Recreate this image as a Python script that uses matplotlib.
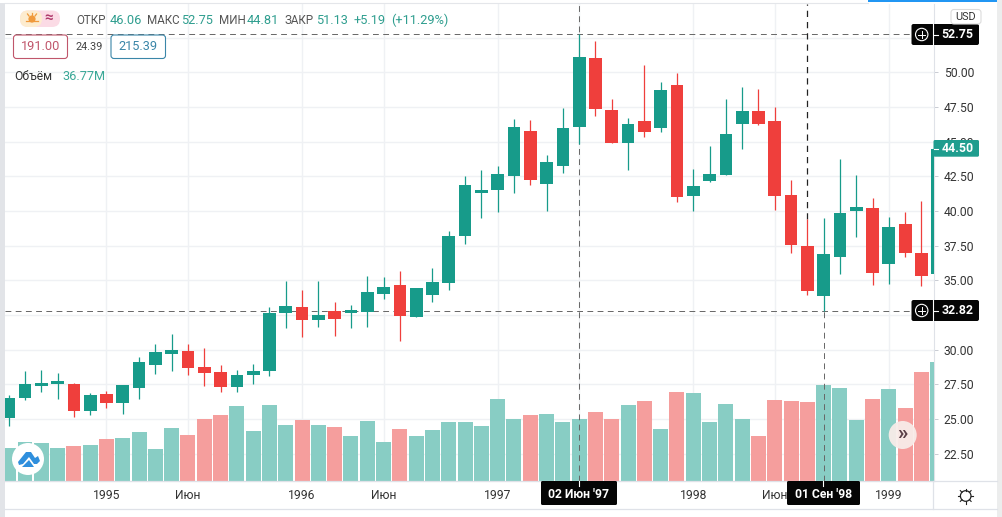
import matplotlib
matplotlib.use('Agg')
import matplotlib.pyplot as plt
from matplotlib.lines import Line2D
from matplotlib.patches import Circle, FancyBboxPatch, Polygon, Rectangle
from matplotlib.transforms import Affine2D

plt.rcParams['font.family'] = ['Roboto', 'DejaVu Sans']

# Monthly candles, Jul 1994 .. Apr 1999
opens = [25.06, 26.50, 27.37, 27.49, 27.49, 25.57,
         26.84, 26.14, 27.23, 28.88, 29.68, 29.87, 28.72, 28.36, 27.30, 28.21, 28.45, 32.64,
         33.05, 32.13, 32.76, 32.64, 32.73, 34.01, 34.70, 32.35, 33.93, 34.80, 38.19, 41.29,
         41.51, 42.52, 45.74, 41.94, 43.24, 46.06, 51.01, 47.26, 44.90, 46.47, 45.96, 49.06,
         41.08, 42.14, 42.59, 46.25, 47.19, 46.47, 41.13, 37.45, 33.86, 36.65, 39.97, 40.19,
         36.15, 39.03, 36.94, 35.43]
closes = [26.55, 27.56, 27.63, 27.71, 25.57, 26.70,
          26.14, 27.42, 29.08, 29.80, 30.01, 28.67, 28.30, 27.30, 28.21, 28.43, 32.61, 33.12,
          32.13, 32.47, 32.20, 32.83, 34.13, 34.49, 32.42, 34.42, 34.85, 38.17, 41.85, 41.49,
          42.64, 46.03, 42.23, 43.51, 45.96, 51.13, 47.36, 44.90, 46.25, 45.67, 48.70, 41.01,
          41.78, 42.64, 45.53, 47.19, 46.25, 41.05, 37.52, 34.20, 36.87, 39.83, 40.26, 35.50,
          38.82, 36.94, 35.28, 44.50]
highs = [26.70, 28.43, 28.57, 28.33, 27.59, 26.91,
         27.01, 27.42, 29.44, 30.38, 31.10, 30.38, 30.09, 28.86, 28.50, 29.00, 33.05, 34.92,
         34.34, 34.92, 33.41, 33.19, 35.35, 35.23, 35.71, 34.42, 35.86, 38.53, 42.50, 42.93,
         43.22, 46.61, 46.54, 44.01, 47.40, 52.75, 52.24, 48.10, 46.68, 50.50, 49.28, 49.95,
         43.00, 44.66, 48.05, 48.92, 48.77, 47.50, 42.21, 39.43, 39.47, 43.72, 42.57, 40.91,
         39.54, 39.90, 40.69, 44.50]
lows = [24.53, 26.38, 26.94, 26.43, 25.13, 25.27,
        25.78, 25.35, 26.43, 28.26, 28.43, 28.21, 27.35, 26.94, 26.94, 27.49, 28.07, 31.55,
        30.95, 31.63, 31.02, 31.60, 31.67, 33.62, 30.62, 32.35, 33.43, 34.30, 37.61, 39.49,
        39.90, 41.29, 41.87, 40.00, 42.71, 44.81, 46.85, 44.90, 42.93, 45.33, 45.67, 40.62,
        39.97, 42.06, 42.59, 44.45, 46.20, 40.09, 36.94, 33.94, 32.82, 35.43, 38.10, 34.63,
        34.71, 36.65, 34.56, 35.43]
volumes = [10.17, 12.00, 11.71, 10.17, 10.78, 11.09,
           12.94, 13.25, 15.10, 9.86, 16.33, 14.17, 19.10, 20.33, 23.11, 15.41, 23.42, 17.25,
           18.79, 17.25, 16.64, 13.86, 18.49, 12.02, 16.02, 13.86, 15.71, 18.18, 18.18, 16.95,
           25.26, 19.10, 20.33, 20.64, 18.18, 19.10, 21.26, 19.10, 23.42, 24.65, 16.02, 27.42,
           27.11, 18.18, 23.72, 19.10, 13.86, 24.96, 24.65, 24.34, 29.58, 28.65, 18.79, 25.26,
           28.35, 22.49, 33.58, 36.77]

# 32.50 and 52.50 keep their grid lines but sit behind the tags, so no text for them
price_ticks = [22.5, 25, 27.5, 30, 32.5, 35, 37.5, 40, 42.5, 45, 47.5, 50, 52.5]
price_labels = ['22.50', '25.00', '27.50', '30.00', '', '35.00', '37.50', '40.00', '42.50', '45.00', '47.50', '50.00', '']
month_ticks = [6, 11, 18, 23, 30, 35, 42, 47, 54]
month_labels = ['1995', 'Июн', '1996', 'Июн', '1997', '', '1998', 'Июн', '1999']

# Crosshairs: two price levels, and the months they were taken from
level_high = 52.75
level_low = 32.82
cross_mid = 35
cross_high = 49
cross_low = 50

TEAL = '#179b8a'
RED = '#ef3f3c'
VOL_TEAL = '#88cdc4'
VOL_RED = '#f59e9d'
GRID = '#eff1f4'
EDGE = '#dfe2e8'
DASH = '#666666'
TEXT = '#333333'
W, H = 1003, 517

fig = plt.figure(figsize=(W / 100, H / 100), dpi=100, facecolor='white')
rect = [5 / W, 1 - 481 / H, 929 / W, 477 / H]
xlim = (-0.227, 56.77)
ylim = (20.53, 54.93)

# three layers so the grid stays under the volume and the dashes stay over it
ax_grid = fig.add_axes(rect)
ax_vol = ax_grid.twinx()
ax = ax_grid.twinx()

ax_grid.set_xlim(xlim)
ax_grid.set_ylim(ylim)
ax.set_ylim(ylim)
ax_vol.set_ylim(0, 146.9)
ax.yaxis.set_visible(False)
ax_vol.yaxis.set_visible(False)
for a in (ax, ax_vol):
    for s in a.spines.values():
        s.set_visible(False)

ax_grid.yaxis.tick_right()
ax_grid.set_yticks(price_ticks)
ax_grid.set_yticklabels(price_labels)
ax_grid.set_xticks(month_ticks)
ax_grid.set_xticklabels(month_labels)
ax_grid.tick_params(axis='y', length=3, width=0.7, color='#c9ccd3', pad=4, labelsize=8.7, labelcolor=TEXT)
ax_grid.tick_params(axis='x', length=0, pad=6, labelsize=8.7, labelcolor=TEXT)
ax_grid.grid(True, color=GRID, linewidth=1)
ax_grid.set_axisbelow(True)
for name, s in ax_grid.spines.items():
    s.set_visible(name in ('right', 'bottom'))
    s.set_color(EDGE)
    s.set_linewidth(0.8)

x = list(range(len(opens)))
up = [c >= o for o, c in zip(opens, closes)]

ax_vol.bar(x, volumes, width=0.92, color=[VOL_TEAL if u else VOL_RED for u in up])

# Crosshairs under the candles
dash = dict(color=DASH, linewidth=0.7, linestyle=(0, (6, 4.5)), zorder=1)
ax.axhline(level_high, **dash)
ax.axhline(level_low, **dash)
ax.axvline(cross_mid, **dash)
ax.plot([cross_high, cross_high], [highs[cross_high], ylim[1]],
        color='#222222', linewidth=0.9, linestyle=(0, (5, 4)), zorder=1)
ax.plot([cross_low, cross_low], [ylim[0], lows[cross_low]], **dash)

# Candles
candle_colors = [TEAL if u else RED for u in up]
ax.vlines(x, lows, highs, colors=candle_colors, linewidth=0.9, zorder=2)
ax.bar(x, [abs(c - o) for o, c in zip(opens, closes)], bottom=[min(o, c) for o, c in zip(opens, closes)],
       width=0.78, color=candle_colors, zorder=3)

# Everything below sits on top of the chart, placed in screen pixels
tr = Affine2D().scale(1 / W, -1 / H).translate(0, 1) + fig.transFigure


def label(px, py, s, color=TEXT, size=8.7, ha='left', weight='normal'):
    fig.text(px, py, s, transform=tr, color=color, fontsize=size, ha=ha, va='center',
             fontweight=weight, zorder=20)


def line(xs, ys, color, lw=0.8, zorder=15):
    fig.add_artist(Line2D(xs, ys, transform=tr, color=color, linewidth=lw, zorder=zorder))


def box(x0, y0, x1, y1, face, edge='none', lw=0.8, rad=2, zorder=10):
    fig.add_artist(FancyBboxPatch((x0 + rad, y0 + rad), x1 - x0 - 2 * rad, y1 - y0 - 2 * rad,
                                  boxstyle='round,pad=%g,rounding_size=%g' % (rad, rad), transform=tr,
                                  facecolor=face, edgecolor=edge, linewidth=lw, zorder=zorder))


# Window frame
fig.add_artist(Rectangle((0, 3), 5, 514, transform=tr, facecolor='#e2e4e8', edgecolor='none', zorder=5))
fig.add_artist(Rectangle((997, 0), 6, 517, transform=tr, facecolor='#eceded', edgecolor='none', zorder=5))
fig.add_artist(Rectangle((868, 0), 129, 2, transform=tr, facecolor='#2196f3', edgecolor='none', zorder=5))
line([5, 868], [2.5, 2.5], '#e4e6ea', 0.8, 5)
line([5, 997], [509, 509], EDGE, 0.9, 5)
line([5, 997], [481, 481], EDGE, 0.9, 5)
line([933.5, 933.5], [481, 509], EDGE, 0.9, 5)

# Legend row
label(76, 20.5, 'ОТКР', '#555555', 8.4)
label(109.5, 20.5, '46.06', '#2f9e8f', 9.2)
label(147, 20.5, 'МАКС', '#555555', 8.4)
label(181, 20.5, '52.75', '#2f9e8f', 9.2)
label(219, 20.5, 'МИН', '#555555', 8.4)
label(247, 20.5, '44.81', '#2f9e8f', 9.2)
label(285, 20.5, 'ЗАКР', '#555555', 8.4)
label(316.5, 20.5, '51.13', '#2f9e8f', 9.2)
label(354, 20.5, '+5.19', '#2f9e8f', 9.2)
label(391, 20.5, '(+11.29%)', '#2f9e8f', 9.2)

box(13.5, 35, 67.5, 58.5, 'white', '#c0566b', 0.8, 3)
label(40.5, 47, '191.00', '#c0566b', 9.2, 'center')
label(89, 47, '24.39', '#444444', 7.8, 'center')
box(111, 35, 165.5, 58.5, 'white', '#3a86a8', 0.8, 3)
label(138, 47, '215.39', '#3a86a8', 9.2, 'center')
label(14, 76, 'Объём', '#333333', 8.7)
label(62, 76, '36.77M', '#3aa897', 9.2)

# Weather pill, top left
box(20, 10.5, 60, 27, '#fbdbe5', rad=8, zorder=8)
box(20, 10.5, 42, 27, '#fdeccf', rad=8, zorder=9)
fig.add_artist(Circle((32, 19), 3.6, transform=tr, facecolor='#f09a3c', edgecolor='none', zorder=11))
for xs, ys in [([26, 38], [21, 21]), ([32, 32], [12.5, 15]), ([27.5, 29], [14, 16]), ([36.5, 35], [14, 16])]:
    line(xs, ys, '#f09a3c', 0.9)
label(49, 18.5, '≈', '#b03a6c', 11, 'center', 'bold')

# Price tags
for py, txt in [(34.5, '52.75'), (310.5, '32.82')]:
    box(911.5, py - 10.5, 979, py + 10.5, '#050505', rad=2)
    fig.add_artist(Circle((921.7, py), 6.2, transform=tr, facecolor='none', edgecolor='white', linewidth=0.8, zorder=15))
    line([918.5, 925], [py, py], 'white', 0.7)
    line([921.7, 921.7], [py - 3.3, py + 3.3], 'white', 0.7)
    line([933.5, 933.5], [py - 10.5, py + 10.5], 'white', 0.8)
    line([934, 938], [py, py], 'white', 0.8)
    label(957.5, py, txt, 'white', 8.9, 'center', 'bold')

box(933.5, 140, 979, 156.7, '#1f9d8e', rad=1.5)
line([934, 938], [148.5, 148.5], 'white', 0.8)
label(957.5, 148.5, '44.50', 'white', 8.9, 'center', 'bold')

box(951, 9.5, 981, 24, 'white', '#dcdcdc', 0.8, 3, zorder=16)
label(966, 16.7, 'USD', '#333333', 7.8, 'center')

# Time tags
for cx, x0, x1, txt in [(579, 541, 617, "02 Июн '97"), (823.5, 787, 860, "01 Сен '98")]:
    box(x0, 481, x1, 505, '#050505', rad=1.5)
    line([cx, cx], [481, 486], 'white', 0.8)
    label(cx, 495, txt, 'white', 8.7, 'center', 'bold')

# Logo button, bottom left
fig.add_artist(Circle((28, 459), 16, transform=tr, facecolor='white', edgecolor='none', zorder=11))
fig.add_artist(Polygon([(18, 462), (26, 452), (31, 452), (35, 458), (38, 456), (40, 461), (37, 464), (34, 464),
                        (29, 457), (23, 464), (19, 465)], transform=tr, facecolor='#2f8fdd', edgecolor='none', zorder=12))
fig.add_artist(Polygon([(23, 466), (29, 460), (34, 467), (22, 467)], transform=tr,
                       facecolor='#2f8fdd', edgecolor='none', zorder=12))

# Scroll button
fig.add_artist(Circle((902.7, 435), 14, transform=tr, facecolor='#f8ece9', edgecolor='none', alpha=0.95, zorder=11))
label(902.7, 434, '»', '#5a4048', 15, 'center', 'bold')

# Settings icon
fig.add_artist(Circle((965.7, 496), 5.3, transform=tr, facecolor='none', edgecolor='#222222', linewidth=0.9, zorder=15))
for xs, ys in [([958, 960.4], [496, 496]), ([971, 973.4], [496, 496]), ([965.7, 965.7], [488.5, 490.7]),
               ([965.7, 965.7], [501.3, 503.5]), ([960.3, 962], [490.6, 492.3]), ([971.1, 969.4], [490.6, 492.3]),
               ([960.3, 962], [501.4, 499.7]), ([971.1, 969.4], [501.4, 499.7])]:
    line(xs, ys, '#222222', 0.8)

fig.savefig('out.png', dpi=100)
